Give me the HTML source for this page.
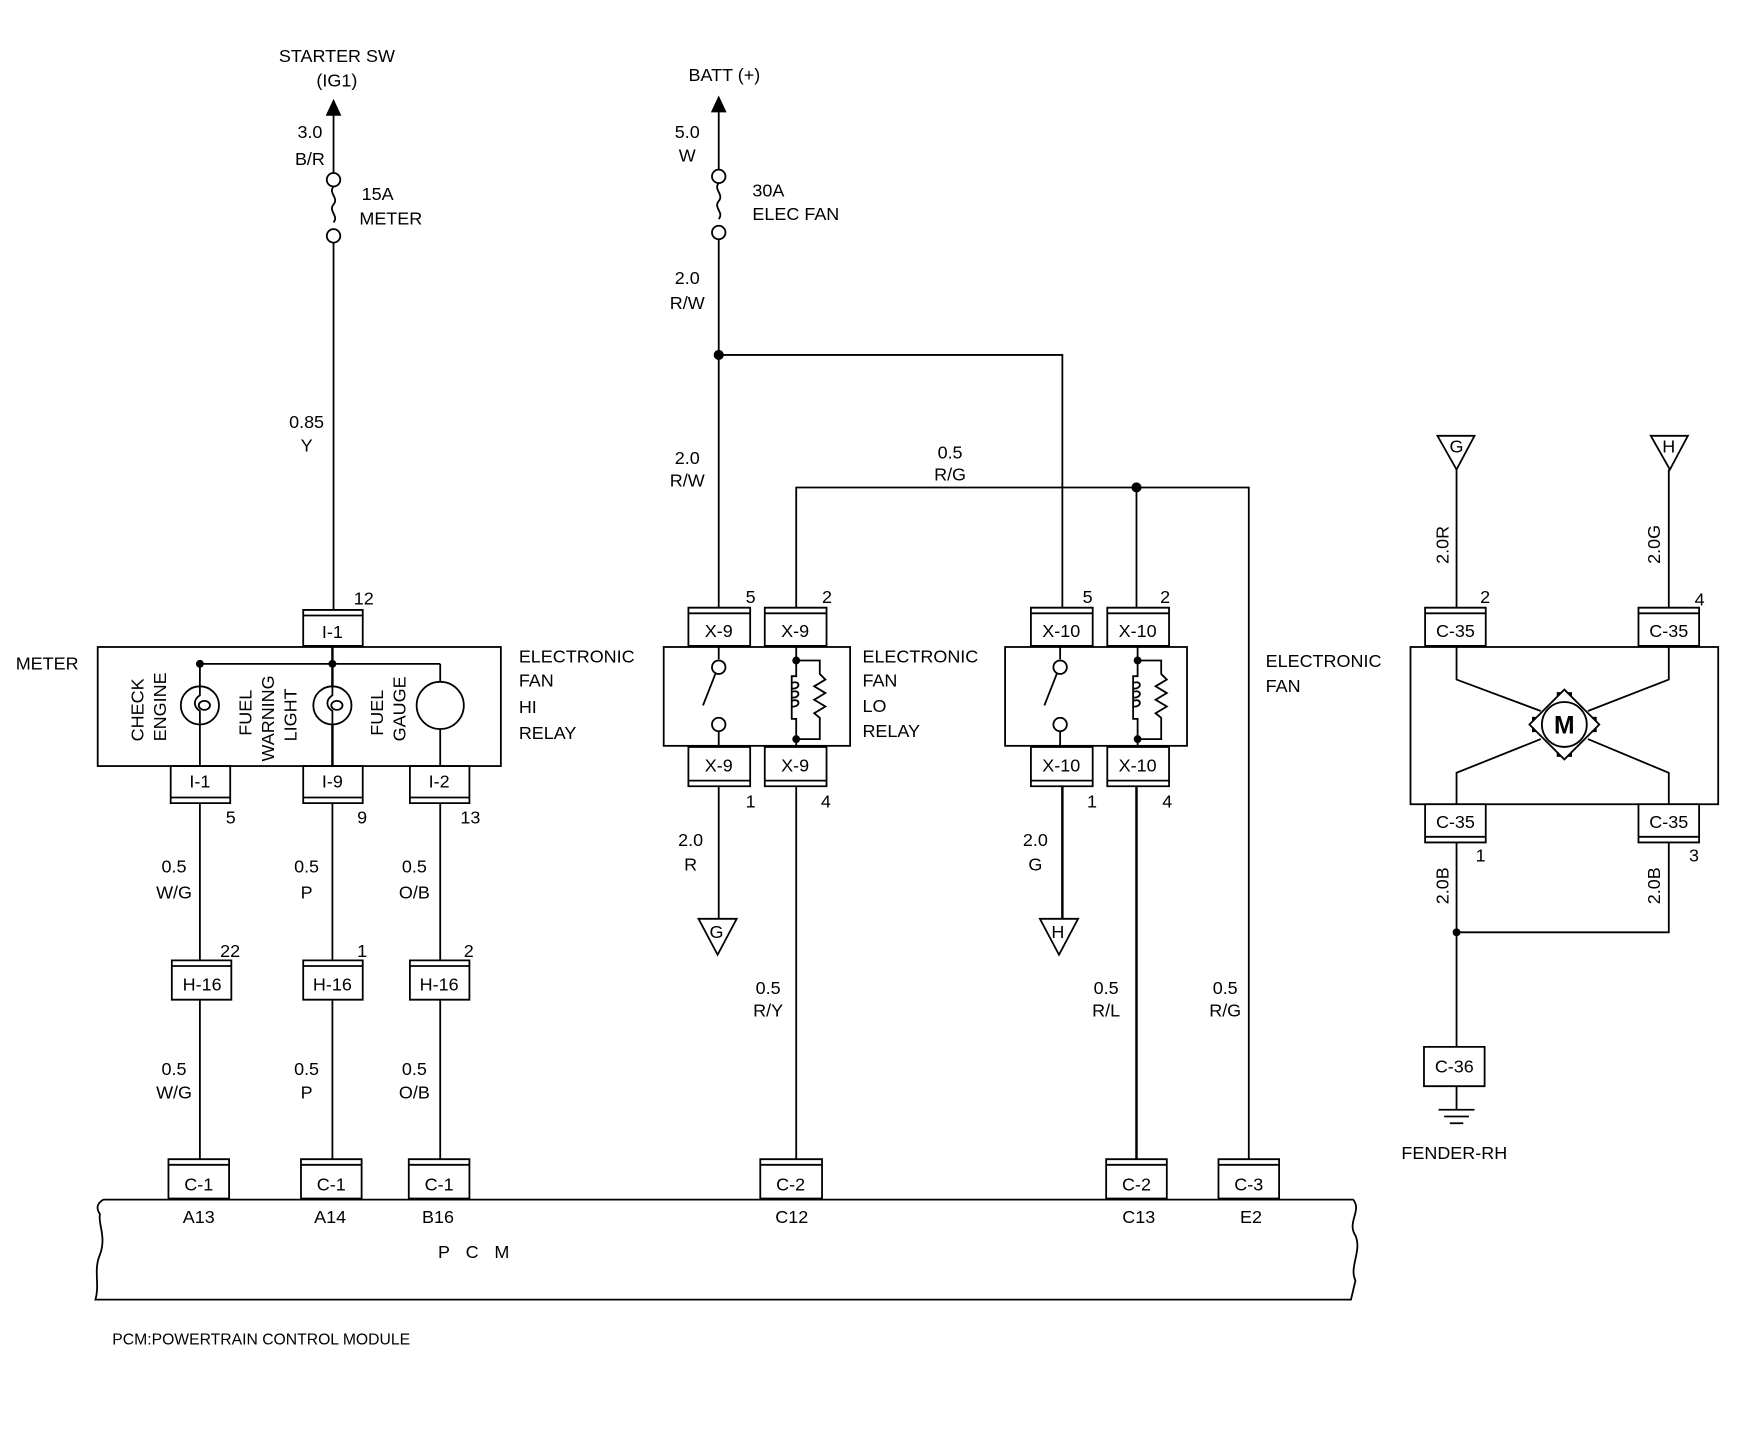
<!DOCTYPE html>
<html><head><meta charset="utf-8"><style>
html,body{margin:0;padding:0;background:#fff}
svg{display:block}
text{font-family:"Liberation Sans",sans-serif;fill:#000;font-size:16px}
.s{font-size:15px}
</style></head><body>
<svg width="1762" height="1440" viewBox="0 0 1569 1282" preserveAspectRatio="none" xmlns="http://www.w3.org/2000/svg">
<g stroke="#000" fill="none" stroke-width="1.6">
<line x1="297" y1="100" x2="297" y2="154"/>
<circle cx="297" cy="160" r="6"/><path d="M297 166 c-5 6 5 10 0 16 c-5 6 5 10 0 16"/><circle cx="297" cy="210" r="6"/>
<line x1="297" y1="216" x2="297" y2="543"/>
<rect x="87" y="576" width="359" height="106"/>
<line x1="178" y1="591" x2="392" y2="591"/>
<line x1="296" y1="576" x2="296" y2="682" stroke-width="2.2"/>
<line x1="178" y1="591" x2="178" y2="682"/>
<line x1="392" y1="591" x2="392" y2="682"/>
<circle cx="178" cy="628" r="17" fill="#fff"/><circle cx="296" cy="628" r="17" fill="#fff"/><circle cx="392" cy="628" r="21" fill="#fff"/>
<path d="M178 611 v8 c-6 4 -6 10 0 14 v12 M296 611 v8 c-6 4 -6 10 0 14 v12"/>
<ellipse cx="182" cy="628" rx="5" ry="4"/><ellipse cx="300" cy="628" rx="5" ry="4"/>
<line x1="178" y1="715" x2="178" y2="1032"/><line x1="296" y1="715" x2="296" y2="1032"/><line x1="392" y1="715" x2="392" y2="1032"/>
<line x1="640" y1="98" x2="640" y2="151"/>
<circle cx="640" cy="157" r="6"/><path d="M640 163 c-5 6 5 10 0 16 c-5 6 5 10 0 16"/><circle cx="640" cy="207" r="6"/>
<line x1="640" y1="213" x2="640" y2="541"/>
<polyline points="640,316 946,316 946,541"/>
<polyline points="709,541 709,434 1112,434 1112,1032"/>
<line x1="1012" y1="434" x2="1012" y2="541"/>
<rect x="591" y="576" width="166" height="88"/>
<rect x="895" y="576" width="162" height="88"/>
<line x1="640" y1="700" x2="640" y2="818"/><line x1="709" y1="700" x2="709" y2="1032"/>
<line x1="946" y1="700" x2="946" y2="818" stroke-width="2.2"/><line x1="1012" y1="700" x2="1012" y2="1032" stroke-width="2.2"/>
<path d="M622 818 h34 l-17 32 z"/><path d="M926 818 h34 l-17 32 z"/>
<path d="M1280 388 h33 l-16 30 z"/><path d="M1470 388 h33 l-16 30 z"/>
<line x1="1297" y1="418" x2="1297" y2="541"/><line x1="1486" y1="418" x2="1486" y2="541"/>
<rect x="1256" y="576" width="274" height="140"/>
<polyline points="1297,576 1297,605 1372,633"/><polyline points="1486,576 1486,605 1414,633"/>
<polyline points="1297,716 1297,688 1372,658"/><polyline points="1486,716 1486,688 1414,658"/>
<polyline points="1297,750 1297,932"/><polyline points="1486,750 1486,830 1297,830"/>
<line x1="1297" y1="967" x2="1297" y2="988"/>
<line x1="1281" y1="988" x2="1313" y2="988"/><line x1="1286" y1="994" x2="1308" y2="994"/><line x1="1291" y1="1000" x2="1303" y2="1000"/>
<path d="M92 1068 H1205 c8 10 -6 20 2 32 c6 14 -6 28 0 40 l-4 17 H85 c4 -14 -2 -26 4 -40 c6 -16 -2 -28 0 -36 c-4 -6 -2 -10 3 -13 z"/>
</g>
<g fill="#000">
<path d="M297 88 l-7 15 h14 z"/><path d="M640 85 l-7 15 h14 z"/>
<circle cx="178" cy="591" r="3.5"/><circle cx="296" cy="591" r="3.5"/>
<circle cx="640" cy="316" r="4.5"/><circle cx="1012" cy="434" r="4.5"/><circle cx="1297" cy="830" r="3.5"/>
</g>
<g stroke="#000" fill="none" stroke-width="1.6" id="r1">
<line x1="640" y1="576" x2="640" y2="587"/><circle cx="640" cy="594" r="6"/>
<line x1="626" y1="628" x2="637" y2="600"/>
<circle cx="640" cy="645" r="6"/><line x1="640" y1="651" x2="640" y2="664"/>
<path d="M709 576 V588 H730 V600 l5 5 l-10 6 l10 6 l-10 6 l10 6 l-10 6 l5 4 V658 H709 V664"/>
<path d="M709 588 V602 h-4 v38 h4 v18"/>
<path d="M705 608 c8 -3 8 6 0 5 M705 616 c8 -3 8 6 0 5 M705 624 c8 -3 8 6 0 5"/>
</g>
<use href="#r1" x="304"/>
<g fill="#000"><circle cx="709" cy="588" r="3.5"/><circle cx="709" cy="658" r="3.5"/><circle cx="1013" cy="588" r="3.5"/><circle cx="1013" cy="658" r="3.5"/></g>
<g stroke="#000" stroke-width="1.6" fill="#fff">
<rect x="1387" y="617" width="12" height="56"/><rect x="1365" y="639" width="56" height="12"/>
<rect x="1371" y="623" width="44" height="44" transform="rotate(45 1393 645)"/>
<circle cx="1393" cy="645" r="20"/>
</g>
<text x="1393" y="653" text-anchor="middle" style="font-size:22px;font-weight:bold">M</text>
<g stroke="#000" stroke-width="1.6" fill="#fff">
<path d="M270 543h53v32h-53z M270 548h53"/>
<path d="M613 541h55v34h-55z M613 546h55"/><path d="M681 541h55v34h-55z M681 546h55"/>
<path d="M918 541h55v34h-55z M918 546h55"/><path d="M986 541h55v34h-55z M986 546h55"/>
<path d="M1269 541h54v34h-54z M1269 546h54"/><path d="M1459 541h54v34h-54z M1459 546h54"/>
<path d="M153 855h53v35h-53z M153 860h53"/><path d="M270 855h53v35h-53z M270 860h53"/><path d="M365 855h53v35h-53z M365 860h53"/>
<path d="M150 1032h54v35h-54z M150 1037h54"/><path d="M268 1032h54v35h-54z M268 1037h54"/><path d="M364 1032h54v35h-54z M364 1037h54"/>
<path d="M677 1032h55v35h-55z M677 1037h55"/><path d="M985 1032h54v35h-54z M985 1037h54"/><path d="M1085 1032h54v35h-54z M1085 1037h54"/>
<path d="M152 682h53v33h-53z M152 710h53"/><path d="M270 682h53v33h-53z M270 710h53"/><path d="M365 682h53v33h-53z M365 710h53"/>
<path d="M613 665h55v35h-55z M613 695h55"/><path d="M681 665h55v35h-55z M681 695h55"/>
<path d="M918 665h55v35h-55z M918 695h55"/><path d="M986 665h55v35h-55z M986 695h55"/>
<path d="M1269 716h54v34h-54z M1269 745h54"/><path d="M1459 716h54v34h-54z M1459 745h54"/>
<path d="M1268 932h54v35h-54z"/>
</g>
<g text-anchor="middle" class="s">
<text x="296" y="568">I-1</text><text x="640" y="567">X-9</text><text x="708" y="567">X-9</text>
<text x="945" y="567">X-10</text><text x="1013" y="567">X-10</text><text x="1296" y="567">C-35</text><text x="1486" y="567">C-35</text>
<text x="178" y="701">I-1</text><text x="296" y="701">I-9</text><text x="391" y="701">I-2</text>
<text x="640" y="687">X-9</text><text x="708" y="687">X-9</text><text x="945" y="687">X-10</text><text x="1013" y="687">X-10</text>
<text x="1296" y="737">C-35</text><text x="1486" y="737">C-35</text><text x="1295" y="955">C-36</text>
<text x="180" y="882">H-16</text><text x="296" y="882">H-16</text><text x="391" y="882">H-16</text>
<text x="177" y="1060">C-1</text><text x="295" y="1060">C-1</text><text x="391" y="1060">C-1</text>
<text x="704" y="1060">C-2</text><text x="1012" y="1060">C-2</text><text x="1112" y="1060">C-3</text>
<text x="300" y="55">STARTER SW</text><text x="300" y="77">(IG1)</text>
<text x="645" y="72">BATT (+)</text>
<text x="276" y="123">3.0</text><text x="276" y="147">B/R</text>
<text x="612" y="123">5.0</text><text x="612" y="144">W</text>
<text x="612" y="253">2.0</text><text x="612" y="275">R/W</text>
<text x="612" y="413">2.0</text><text x="612" y="433">R/W</text>
<text x="273" y="381">0.85</text><text x="273" y="402">Y</text>
<text x="846" y="408">0.5</text><text x="846" y="428">R/G</text>
<text x="155" y="777">0.5</text><text x="155" y="800">W/G</text>
<text x="273" y="777">0.5</text><text x="273" y="800">P</text>
<text x="369" y="777">0.5</text><text x="369" y="800">O/B</text>
<text x="155" y="957">0.5</text><text x="155" y="978">W/G</text>
<text x="273" y="957">0.5</text><text x="273" y="978">P</text>
<text x="369" y="957">0.5</text><text x="369" y="978">O/B</text>
<text x="615" y="753">2.0</text><text x="615" y="775">R</text>
<text x="922" y="753">2.0</text><text x="922" y="775">G</text>
<text x="684" y="885">0.5</text><text x="684" y="905">R/Y</text>
<text x="985" y="885">0.5</text><text x="985" y="905">R/L</text>
<text x="1091" y="885">0.5</text><text x="1091" y="905">R/G</text>
<text x="177" y="1089">A13</text><text x="294" y="1089">A14</text><text x="390" y="1089">B16</text>
<text x="705" y="1089">C12</text><text x="1014" y="1089">C13</text><text x="1114" y="1089">E2</text>
<text x="1295" y="1032">FENDER-RH</text>
<text x="638" y="835">G</text><text x="942" y="835">H</text>
<text x="1297" y="403">G</text><text x="1486" y="403">H</text>
</g>
<g class="s">
<text x="322" y="178">15A</text><text x="320" y="200">METER</text>
<text x="670" y="175">30A</text><text x="670" y="196">ELEC FAN</text>
<text x="14" y="596">METER</text>
<text x="462" y="590">ELECTRONIC</text><text x="462" y="611">FAN</text><text x="462" y="635">HI</text><text x="462" y="658">RELAY</text>
<text x="768" y="590">ELECTRONIC</text><text x="768" y="611">FAN</text><text x="768" y="634">LO</text><text x="768" y="656">RELAY</text>
<text x="1127" y="594">ELECTRONIC</text><text x="1127" y="616">FAN</text>
<text x="315" y="538">12</text><text x="664" y="537">5</text><text x="732" y="537">2</text><text x="964" y="537">5</text><text x="1033" y="537">2</text>
<text x="1318" y="537">2</text><text x="1509" y="539">4</text>
<text x="201" y="733">5</text><text x="318" y="733">9</text><text x="410" y="733">13</text>
<text x="664" y="719">1</text><text x="731" y="719">4</text><text x="968" y="719">1</text><text x="1035" y="719">4</text>
<text x="1314" y="767">1</text><text x="1504" y="767">3</text>
<text x="196" y="852">22</text><text x="318" y="852">1</text><text x="413" y="852">2</text>
<text x="390" y="1120" letter-spacing="14">PCM</text>
<text x="100" y="1197" style="font-size:14px">PCM:POWERTRAIN CONTROL MODULE</text>
</g>
<g class="s">
<text transform="translate(128 660) rotate(-90)">CHECK</text>
<text transform="translate(148 660) rotate(-90)">ENGINE</text>
<text transform="translate(224 655) rotate(-90)">FUEL</text>
<text transform="translate(244 678) rotate(-90)">WARNING</text>
<text transform="translate(264 660) rotate(-90)">LIGHT</text>
<text transform="translate(341 655) rotate(-90)">FUEL</text>
<text transform="translate(361 660) rotate(-90)">GAUGE</text>
<text transform="translate(1290 502) rotate(-90)">2.0R</text>
<text transform="translate(1478 502) rotate(-90)">2.0G</text>
<text transform="translate(1290 805) rotate(-90)">2.0B</text>
<text transform="translate(1478 805) rotate(-90)">2.0B</text>
</g>
</svg>
</body></html>
